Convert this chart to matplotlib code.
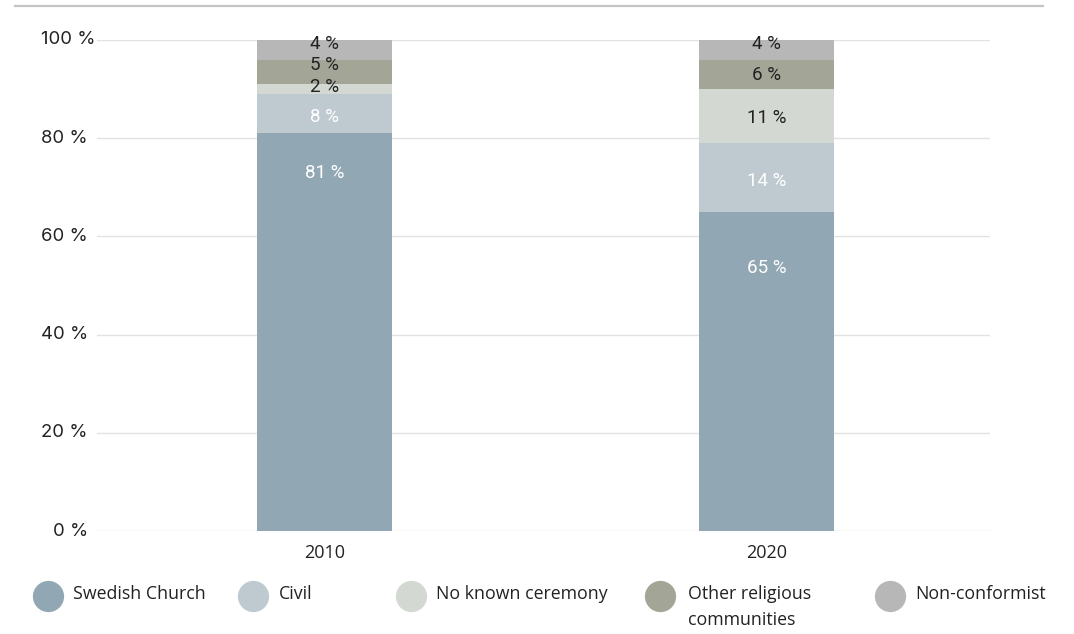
import numpy as np
import matplotlib.pyplot as plt
from matplotlib.lines import Line2D

years = ['2010', '2020']
categories = ['Swedish Church', 'Civil', 'No known ceremony', 'Other religious\ncommunities', 'Non-conformist']
values = {
    'Swedish Church': [81, 65],
    'Civil': [8, 14],
    'No known ceremony': [2, 11],
    'Other religious\ncommunities': [5, 6],
    'Non-conformist': [4, 4],
}
# where the value labels sit (in %)
label_y = {
    'Swedish Church': [73, 53.6],
    'Civil': [84.3, 71.3],
    'No known ceremony': [90.4, 84.1],
    'Other religious\ncommunities': [94.9, 92.9],
    'Non-conformist': [99.2, 99.2],
}
colors = ['#91a7b3', '#bfcad0', '#d3d8d2', '#a3a596', '#b8b7b8']
label_colors = ['white', 'white', '#222222', '#222222', '#222222']

plt.rcParams['font.family'] = ['Open Sans', 'DejaVu Sans']

W, H = 1074, 634
fig = plt.figure(figsize=(W / 100, H / 100), dpi=100)
ax = fig.add_axes([97 / W, (H - 531) / H, (990 - 97) / W, (531 - 40) / H])

x = np.arange(len(years))
bottom = np.zeros(len(years))
for cat, col, lcol in zip(categories, colors, label_colors):
    v = np.array(values[cat], dtype=float)
    ax.bar(x, v, bottom=bottom, width=0.305, color=col, zorder=2)
    for xi, vi, yi in zip(x, v, label_y[cat]):
        ax.text(xi, yi, f'{int(vi)} %', ha='center', va='center', color=lcol,
                fontsize=13.5, family=['Roboto', 'DejaVu Sans'], zorder=3)
    bottom += v

ax.set_xlim(-0.514, 1.504)
ax.set_ylim(0, 100)
for s in ax.spines.values():
    s.set_visible(False)

yt = np.arange(0, 101, 20)
for t in yt:
    ax.axhline(t, color='#e2e2e2', lw=1, zorder=1)
    lx = 41 if t else 53
    ax.text((lx - 97) / (990 - 97), t, f'{t} %', transform=ax.get_yaxis_transform(), ha='left', va='center',
            fontsize=13.3, color='#222222', family=['Inter', 'DejaVu Sans'])
ax.set_yticks([])
ax.set_xticks(x)
ax.set_xticklabels(years, fontsize=13, color='#222222')
ax.tick_params(axis='x', length=0, pad=9)

# top rule
fig.add_artist(Line2D([15 / W, 1043 / W], [1 - 6 / H, 1 - 6 / H], color='#c4c4c4', lw=1.6))

# legend
leg_circle_x = [48, 253, 411, 660, 890]
leg_text_x = [73, 279, 436, 688, 915]
for cat, col, cx, tx in zip(categories, colors, leg_circle_x, leg_text_x):
    fig.add_artist(Line2D([cx / W], [1 - 596 / H], marker='o', markersize=22.5,
                          markerfacecolor=col, markeredgecolor='none', linestyle='none'))
    fig.text(tx / W, 1 - 585 / H, cat, ha='left', va='top',
             fontsize=12.8, color='#222222', linespacing=1.6)

fig.savefig('out.png', dpi=100)
